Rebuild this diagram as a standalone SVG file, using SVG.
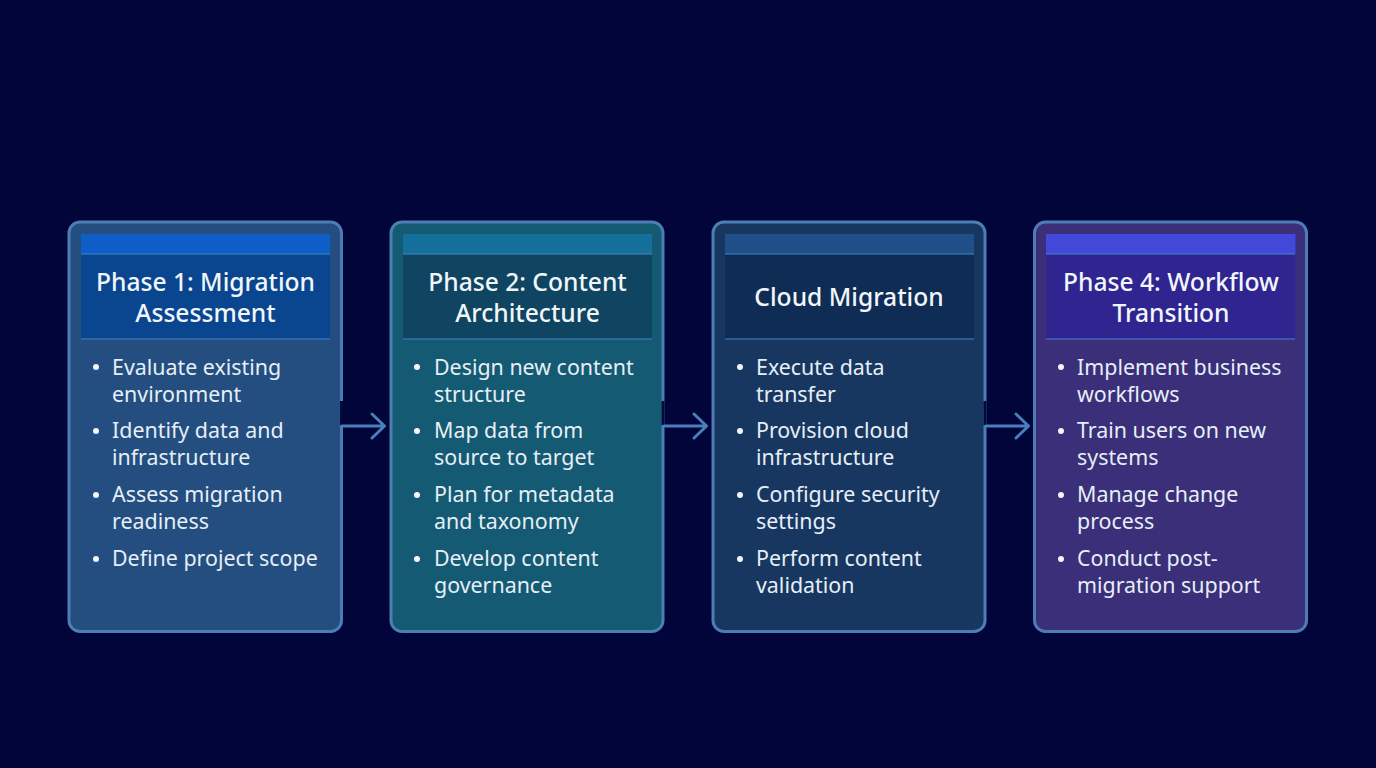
<svg xmlns="http://www.w3.org/2000/svg" width="1376" height="768" viewBox="0 0 1376 768">
<style>
.card{stroke:#4d7db5;stroke-width:3}
.rule{stroke:#3f86c8;stroke-width:1.2}
.title{font-family:"Noto Sans","Open Sans",sans-serif;font-size:24.6px;font-weight:500;fill:#f1f6fb;text-anchor:middle}
.item{font-family:"Noto Sans","Open Sans",sans-serif;font-size:21.4px;fill:#e6eef7}
.dot{fill:#f2f6fb}
.conn{fill:none;stroke:#4a7fbd;stroke-width:3;stroke-linejoin:round;stroke-linecap:round}
.notch{fill:#020a3c}
</style>
<rect width="1376" height="768" fill="#02053a"/>
<g id="phase1">
<rect class="card" x="69" y="222" width="272.500" height="409.500" rx="11" fill="#234e7f"/>
<rect x="81" y="234" width="249" height="105" fill="#0a4590"/>
<rect x="81" y="234" width="249" height="20" fill="#0f5ec8"/>
<line class="rule" x1="81" y1="254" x2="330" y2="254"/><line class="rule" x1="81" y1="339" x2="330" y2="339"/>
<text class="title"><tspan x="205.500" y="291">Phase 1: Migration</tspan><tspan x="205.500" dy="31">Assessment</tspan></text>
<circle class="dot" cx="96" cy="367" r="3"/><text class="item"><tspan x="112" y="375">Evaluate existing</tspan><tspan x="112" dy="27">environment</tspan></text>
<circle class="dot" cx="96" cy="431" r="3"/><text class="item"><tspan x="112" y="438">Identify data and</tspan><tspan x="112" dy="27">infrastructure</tspan></text>
<circle class="dot" cx="96" cy="495" r="3"/><text class="item"><tspan x="112" y="502">Assess migration</tspan><tspan x="112" dy="27">readiness</tspan></text>
<circle class="dot" cx="96" cy="559" r="3"/><text class="item" x="112" y="566">Define project scope</text>
</g>
<g id="phase2">
<rect class="card" x="391" y="222" width="272" height="409.500" rx="11" fill="#145a72"/>
<rect x="403" y="234" width="249" height="105" fill="#0f4560"/>
<rect x="403" y="234" width="249" height="20" fill="#14709a"/>
<line class="rule" x1="403" y1="254" x2="652" y2="254"/><line class="rule" x1="403" y1="339" x2="652" y2="339"/>
<text class="title"><tspan x="527.500" y="291">Phase 2: Content</tspan><tspan x="527.500" dy="31">Architecture</tspan></text>
<circle class="dot" cx="417" cy="367" r="3"/><text class="item"><tspan x="434" y="375">Design new content</tspan><tspan x="434" dy="27">structure</tspan></text>
<circle class="dot" cx="417" cy="431" r="3"/><text class="item"><tspan x="434" y="438">Map data from</tspan><tspan x="434" dy="27">source to target</tspan></text>
<circle class="dot" cx="417" cy="495" r="3"/><text class="item"><tspan x="434" y="502">Plan for metadata</tspan><tspan x="434" dy="27">and taxonomy</tspan></text>
<circle class="dot" cx="417" cy="559" r="3"/><text class="item"><tspan x="434" y="566">Develop content</tspan><tspan x="434" dy="27">governance</tspan></text>
</g>
<g id="phase3">
<rect class="card" x="713" y="222" width="272" height="409.500" rx="11" fill="#173761"/>
<rect x="725" y="234" width="249" height="105" fill="#0f2c55"/>
<rect x="725" y="234" width="249" height="20" fill="#1f4e88"/>
<line class="rule" x1="725" y1="254" x2="974" y2="254"/><line class="rule" x1="725" y1="339" x2="974" y2="339"/>
<text class="title" x="849" y="306">Cloud Migration</text>
<circle class="dot" cx="740" cy="367" r="3"/><text class="item"><tspan x="756" y="375">Execute data</tspan><tspan x="756" dy="27">transfer</tspan></text>
<circle class="dot" cx="740" cy="431" r="3"/><text class="item"><tspan x="756" y="438">Provision cloud</tspan><tspan x="756" dy="27">infrastructure</tspan></text>
<circle class="dot" cx="740" cy="495" r="3"/><text class="item"><tspan x="756" y="502">Configure security</tspan><tspan x="756" dy="27">settings</tspan></text>
<circle class="dot" cx="740" cy="559" r="3"/><text class="item"><tspan x="756" y="566">Perform content</tspan><tspan x="756" dy="27">validation</tspan></text>
</g>
<g id="phase4">
<rect class="card" x="1034.500" y="222" width="272" height="409.500" rx="11" fill="#3a2f78"/>
<rect x="1046" y="234" width="249.500" height="105" fill="#2f2490"/>
<rect x="1046" y="234" width="249.500" height="20" fill="#4448d8"/>
<line class="rule" x1="1046" y1="254" x2="1295" y2="254"/><line class="rule" x1="1046" y1="339" x2="1295" y2="339"/>
<text class="title"><tspan x="1171" y="291">Phase 4: Workflow</tspan><tspan x="1171" dy="31">Transition</tspan></text>
<circle class="dot" cx="1061" cy="367" r="3"/><text class="item"><tspan x="1077" y="375">Implement business</tspan><tspan x="1077" dy="27">workflows</tspan></text>
<circle class="dot" cx="1061" cy="431" r="3"/><text class="item"><tspan x="1077" y="438">Train users on new</tspan><tspan x="1077" dy="27">systems</tspan></text>
<circle class="dot" cx="1061" cy="495" r="3"/><text class="item"><tspan x="1077" y="502">Manage change</tspan><tspan x="1077" dy="27">process</tspan></text>
<circle class="dot" cx="1061" cy="559" r="3"/><text class="item"><tspan x="1077" y="566">Conduct post-</tspan><tspan x="1077" dy="27">migration support</tspan></text>
</g>
<g id="connectors">
<rect class="notch" x="340" y="401" width="3" height="24"/>
<rect class="notch" x="661.500" y="401" width="3" height="24"/>
<rect class="notch" x="983.500" y="401" width="3" height="24"/>
<path class="conn" d="M342 426H384.500M372 414L384.500 426L372 438"/>
<path class="conn" d="M664 426H706.500M694 414L706.500 426L694 438"/>
<path class="conn" d="M986 426H1028.500M1016 414L1028.500 426L1016 438"/>
</g>
</svg>
